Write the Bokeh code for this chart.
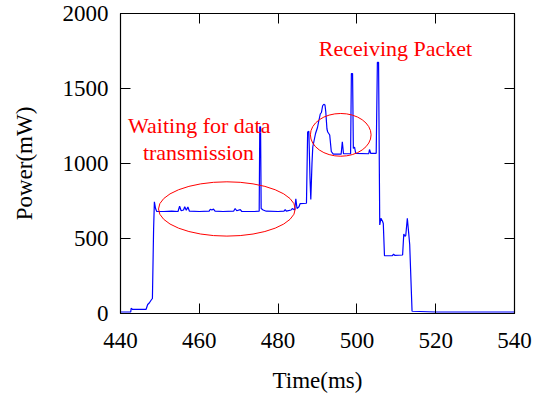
from bokeh.plotting import figure
from bokeh.models import LinearAxis, Label, Range1d, FixedTicker
from bokeh.embed import file_html
from bokeh.resources import INLINE

# ---- data ----
time_ms = [440.0, 442.6, 442.7, 443.0, 446.5, 446.9, 447.3, 447.8, 448.1, 448.4,
           448.6, 448.9, 449.2, 451.0, 453.0, 454.6, 455.0, 455.4, 456.0, 456.3,
           456.7, 457.1, 457.5, 460.0, 462.5, 462.8, 463.2, 463.6, 464.0, 466.0,
           468.7, 469.1, 469.5, 470.4, 470.8, 474.0, 475.2, 475.35, 475.55, 475.7,
           476.2, 477.0, 480.0, 481.5, 481.8, 482.1, 483.3, 483.6, 484.2, 484.5,
           484.8, 485.3, 485.6, 487.2, 487.5, 487.8, 488.1, 488.3, 488.6, 488.8,
           489.5, 490.0, 490.3, 490.7, 491.0, 491.3, 491.6, 491.9, 492.1, 492.4,
           492.6, 493.1, 493.5, 494.0, 496.0, 496.3, 496.6, 498.4, 498.6, 498.9,
           499.1, 499.4, 499.7, 503.0, 503.2, 503.5, 504.9, 505.2, 505.5, 505.8,
           506.1, 506.5, 506.7, 507.0, 509.0, 509.3, 509.6, 511.6, 511.9, 512.2,
           512.4, 512.8, 513.2, 513.4, 514.0, 520.0, 530.0, 540.0]
power_mw = [10, 10, 35, 28, 28, 60, 70, 90, 100, 560,
            745, 700, 680, 680, 682, 680, 715, 685, 690, 712,
            688, 710, 682, 680, 683, 695, 690, 696, 682, 680,
            682, 700, 685, 692, 680, 680, 682, 1245, 1245, 700,
            690, 682, 680, 683, 693, 682, 690, 700, 690, 765,
            700, 712, 733, 735, 1210, 1215, 900, 760, 1000, 1110,
            1200, 1240, 1280, 1330, 1340, 1385, 1395, 1390, 1345, 1230,
            1210, 1190, 1080, 1062, 1062, 1145, 1065, 1065, 1600, 1600,
            1100, 1110, 1068, 1065, 1093, 1068, 1068, 1675, 1675, 590,
            635, 615, 600, 385, 386, 395, 388, 390, 530, 515,
            520, 635, 520, 460, 15, 10, 10, 10]

x_ticks = [440, 460, 480, 500, 520, 540]
y_ticks = [0, 500, 1000, 1500, 2000]

# highlighted regions (center x, center y, width, height)
ell_x = [467.0, 495.9]
ell_y = [697, 1191]
ell_w = [34.7, 15.4]
ell_h = [362, 285]

FONT = "Liberation Serif"

p = figure(width=536, height=395, output_backend="svg", toolbar_location=None,
           x_range=Range1d(440, 540), y_range=Range1d(0, 2000),
           min_border_left=120, min_border_right=22, min_border_top=13,
           min_border_bottom=82)
p.xgrid.visible = False
p.ygrid.visible = False
p.outline_line_color = "black"
p.outline_line_width = 1.2
p.background_fill_color = "white"
p.border_fill_color = "white"

p.line(time_ms, power_mw, line_color="#0000ff", line_width=1.2)
p.ellipse(x=ell_x, y=ell_y, width=ell_w, height=ell_h, fill_alpha=0,
          line_color="#ff0000", line_width=1)

for ax in (p.xaxis[0], p.yaxis[0]):
    ax.major_tick_in = 10
    ax.major_tick_out = 0
    ax.minor_tick_line_color = None
    ax.major_label_text_font = FONT
    ax.major_label_text_font_size = "23px"
    ax.major_label_text_color = "black"
    ax.axis_label_text_font = FONT
    ax.axis_label_text_font_size = "23px"
    ax.axis_label_text_font_style = "normal"
    ax.axis_label_text_color = "black"
    ax.axis_line_color = "black"
    ax.major_tick_line_color = "black"

p.xaxis[0].ticker = FixedTicker(ticks=x_ticks)
p.yaxis[0].ticker = FixedTicker(ticks=y_ticks)
p.xaxis[0].axis_label = "Time(ms)"
p.yaxis[0].axis_label = "Power(mW)"
p.xaxis[0].major_label_standoff = 19
p.xaxis[0].axis_label_standoff = 17
p.yaxis[0].major_label_standoff = 12
p.yaxis[0].axis_label_standoff = 23

top = LinearAxis(ticker=FixedTicker(ticks=x_ticks), major_tick_in=10, major_tick_out=0,
                 minor_tick_line_color=None,
                 major_label_overrides={t: "" for t in x_ticks},
                 major_label_standoff=0, axis_line_color="black")
right = LinearAxis(ticker=FixedTicker(ticks=y_ticks), major_tick_in=10, major_tick_out=0,
                   minor_tick_line_color=None,
                   major_label_overrides={t: "" for t in y_ticks},
                   major_label_standoff=0, axis_line_color="black")
p.add_layout(top, "above")
p.add_layout(right, "right")

for txt, lx, ly in [("Waiting for data", 460.0, 1255), ("transmission", 459.8, 1075),
                    ("Receiving Packet", 509.8, 1767)]:
    p.add_layout(Label(x=lx, y=ly, text=txt, text_align="center",
                       text_baseline="alphabetic", text_font=FONT,
                       text_font_size="22px", text_color="#ff0000"))

open("out.html", "w").write(file_html(p, INLINE))
